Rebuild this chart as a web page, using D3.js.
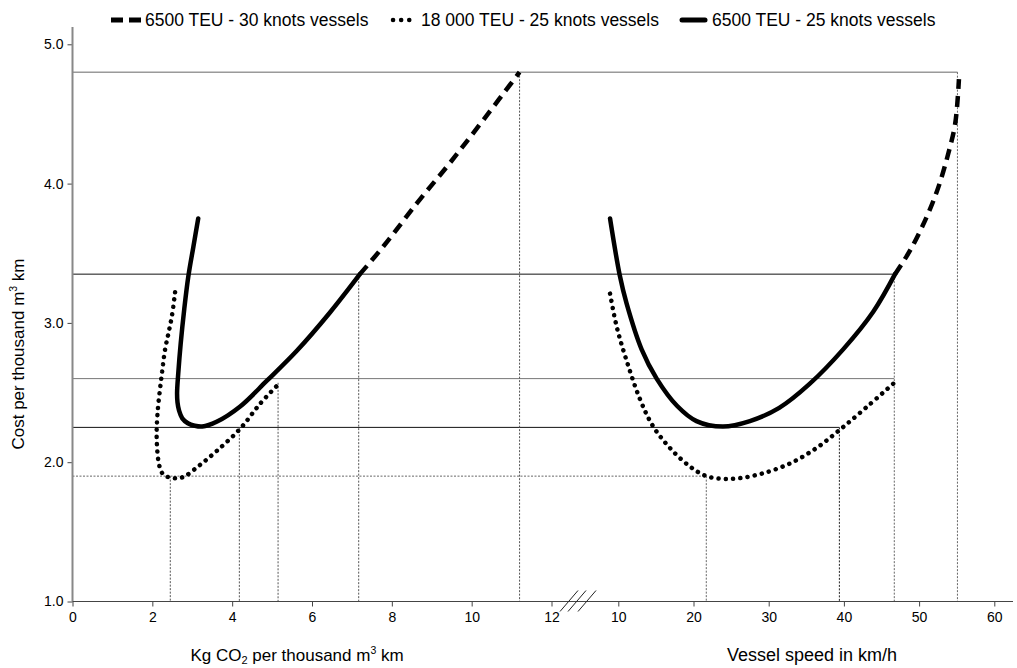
<!DOCTYPE html>
<html><head><meta charset="utf-8">
<script src="https://cdn.jsdelivr.net/npm/d3@7/dist/d3.min.js"></script>
<style>
body{margin:0;background:#fff;}
text{font-family:"Liberation Sans",Arial,sans-serif;fill:#000;}
</style></head>
<body><svg id="c" width="1017" height="668"></svg>
<script>
// ---- data ----
const seriesNames = ["6500 TEU - 30 knots vessels", "18 000 TEU - 25 knots vessels", "6500 TEU - 25 knots vessels"];
const yTicks = [1.0, 2.0, 3.0, 4.0, 5.0];
const co2Ticks = [0, 2, 4, 6, 8, 10, 12];
const speedTicks = [10, 20, 30, 40, 50, 60];

// left panel: CO2 (kg per thousand m3 km) vs cost
const co2Solid   = [3.15, 3.03, 2.90, 2.80, 2.71, 2.65, 2.62, 2.63, 2.67, 2.75, 2.89, 3.06, 3.25, 3.61, 4.20, 4.87, 5.62, 6.45, 7.20];
const costSolidL = [3.75, 3.55, 3.33, 3.10, 2.85, 2.64, 2.50, 2.43, 2.37, 2.315, 2.28, 2.262, 2.256, 2.29, 2.40, 2.585, 2.80, 3.075, 3.35];
const co2Dashed   = [7.20, 7.79, 8.63, 9.46, 10.30, 11.20];
const costDashedL = [3.35, 3.55, 3.86, 4.15, 4.46, 4.80];
const co2Dotted   = [2.57, 2.49, 2.40, 2.32, 2.22, 2.13, 2.11, 2.18, 2.28, 2.44, 2.65, 2.82, 3.15, 3.61, 4.20, 4.70, 5.16];
const costDottedL = [3.22, 3.05, 2.92, 2.81, 2.59, 2.35, 2.16, 1.97, 1.91, 1.89, 1.885, 1.90, 1.97, 2.08, 2.24, 2.42, 2.56];

// right panel: vessel speed (km/h) vs cost
const speedSolid  = [8.9, 10.2, 11.1, 13.1, 15.1, 17.8, 20.4, 23.9, 27.5, 31.4, 35.4, 39.9, 43.9, 46.8];
const costSolidR  = [3.75, 3.34, 3.14, 2.81, 2.60, 2.405, 2.295, 2.256, 2.295, 2.39, 2.56, 2.81, 3.08, 3.35];
const speedDashed = [46.8, 48.8, 51.0, 52.6, 53.9, 54.8, 55.3];
const costDashedR = [3.35, 3.52, 3.76, 3.98, 4.22, 4.43, 4.75];
const speedDotted = [8.9, 9.8, 11.1, 12.9, 14.6, 16.9, 19.5, 21.7, 23.9, 26.1, 29.2, 32.8, 36.3, 39.4, 42.9, 46.7];
const costDotted  = [3.21, 2.97, 2.73, 2.45, 2.26, 2.10, 1.97, 1.90, 1.88, 1.885, 1.92, 1.99, 2.10, 2.23, 2.39, 2.57];

// reference (guide) lines
const refCost  = [4.8, 3.35, 2.6, 2.25, 1.9];
const refSpeed = [55.1, 46.7, 46.7, 39.4, 21.7];
const refCO2   = [11.2, 7.17, 5.15, 4.18, 2.45];
const refCO2Cost = [4.8, 3.35, 2.57, 2.25, 1.9];
const refSpeedV = [55.1, 46.7, 39.4, 21.7];
const refSpeedVCost = [4.8, 3.35, 2.25, 1.9];

// ---- layout ----
const svg = d3.select("#c");
const y = d3.scaleLinear().domain([1, 5]).range([601.5, 44.3]);
const xL = d3.scaleLinear().domain([0, 12]).range([72.5, 551.5]);
const xR = d3.scaleLinear().domain([10, 60]).range([618.3, 994.3]);
const x0 = 72.5, yBase = y(1);

const zip = (a, b) => a.map((v, i) => [v, b[i]]);

// guide lines
const g = svg.append("g");
const hStyles = [
  {c:"#666", d:null}, {c:"#111", d:null}, {c:"#777", d:null}, {c:"#111", d:null}, {c:"#666", d:"2,1.5"}
];
refCost.forEach((v, i) => {
  g.append("line").attr("x1", x0).attr("x2", xR(refSpeed[i])).attr("y1", y(v)).attr("y2", y(v))
    .attr("stroke", hStyles[i].c).attr("stroke-width", 1).attr("stroke-dasharray", hStyles[i].d);
});
refCO2.forEach((v, i) => {
  g.append("line").attr("x1", xL(v)).attr("x2", xL(v)).attr("y1", y(refCO2Cost[i])).attr("y2", yBase)
    .attr("stroke", "#555").attr("stroke-width", 1).attr("stroke-dasharray", "2,1.5");
});
refSpeedV.forEach((v, i) => {
  g.append("line").attr("x1", xR(v)).attr("x2", xR(v)).attr("y1", y(refSpeedVCost[i])).attr("y2", yBase)
    .attr("stroke", i === 2 ? "#222" : "#666").attr("stroke-width", 1).attr("stroke-dasharray", "2,1.5");
});

// axes
const yAxis = d3.axisLeft(y).tickValues(yTicks).tickFormat(d3.format(".1f")).tickSize(5).tickPadding(4);
const ga = svg.append("g").attr("transform", `translate(${x0},0)`).call(yAxis);
ga.select(".domain").remove();
svg.append("line").attr("x1", x0).attr("x2", x0).attr("y1", 27).attr("y2", yBase)
  .attr("stroke", "#888").attr("stroke-width", 2);

const xAxisL = d3.axisBottom(xL).tickValues(co2Ticks).tickFormat(d3.format("d")).tickSize(5).tickPadding(6);
const xAxisR = d3.axisBottom(xR).tickValues(speedTicks).tickFormat(d3.format("d")).tickSize(5).tickPadding(6);
const gl = svg.append("g").attr("transform", `translate(0,${yBase})`).call(xAxisL);
const gr = svg.append("g").attr("transform", `translate(0,${yBase})`).call(xAxisR);
[gl, gr].forEach(a => { a.select(".domain").remove(); a.selectAll("line").attr("stroke", "#444");
  a.selectAll("text").attr("font-size", 14).attr("font-family", "Liberation Sans, Arial, sans-serif").attr("fill", "#111"); });
ga.selectAll("line").attr("stroke", "#444");
ga.selectAll("text").attr("font-size", 14).attr("font-family", "Liberation Sans, Arial, sans-serif").attr("fill", "#111");
svg.append("line").attr("x1", x0).attr("x2", 1013).attr("y1", yBase).attr("y2", yBase)
  .attr("stroke", "#444").attr("stroke-width", 1.2);

// axis break marks
[560, 568, 578].forEach(bx => {
  svg.append("line").attr("x1", bx).attr("y1", yBase + 10).attr("x2", bx + 18).attr("y2", yBase - 11)
    .attr("stroke", "#222").attr("stroke-width", 1);
});

// curves
const line = d3.line().x(d => d[0]).y(d => d[1]).curve(d3.curveCatmullRom.alpha(0.5));
const styles = {
  solid:  {w: 4.5, d: null, cap: "round"},
  dashed: {w: 4.5, d: "11,7", cap: "butt"},
  dotted: {w: 4.5, d: "0.1,7.2", cap: "round"}
};
function draw(xs, ys, xsc, st) {
  const pts = zip(xs, ys).map(p => [xsc(p[0]), y(p[1])]);
  svg.append("path").attr("d", line(pts)).attr("fill", "none").attr("stroke", "#000")
    .attr("stroke-width", styles[st].w).attr("stroke-dasharray", styles[st].d)
    .attr("stroke-linecap", styles[st].cap).attr("stroke-linejoin", "round");
}
draw(co2Dotted, costDottedL, xL, "dotted");
draw(co2Solid, costSolidL, xL, "solid");
draw(co2Dashed, costDashedL, xL, "dashed");
draw(speedDotted, costDotted, xR, "dotted");
draw(speedSolid, costSolidR, xR, "solid");
draw(speedDashed, costDashedR, xR, "dashed");

// legend
const leg = svg.append("g").attr("font-size", 17.5);
const ly = 20;
leg.append("line").attr("x1", 111).attr("x2", 141).attr("y1", ly).attr("y2", ly)
  .attr("stroke", "#000").attr("stroke-width", 5).attr("stroke-dasharray", "12,6");
leg.append("text").attr("x", 145).attr("y", ly + 6).text(seriesNames[0]);
leg.append("line").attr("x1", 393).attr("x2", 411).attr("y1", ly).attr("y2", ly)
  .attr("stroke", "#000").attr("stroke-width", 4.5).attr("stroke-linecap", "round").attr("stroke-dasharray", "0.1,8");
leg.append("text").attr("x", 421).attr("y", ly + 6).text(seriesNames[1]);
leg.append("line").attr("x1", 682).attr("x2", 705).attr("y1", ly).attr("y2", ly)
  .attr("stroke", "#000").attr("stroke-width", 5).attr("stroke-linecap", "round");
leg.append("text").attr("x", 712).attr("y", ly + 6).text(seriesNames[2]);

// axis titles
const yt = svg.append("text").attr("transform", "translate(24,354) rotate(-90)")
  .attr("text-anchor", "middle").attr("font-size", 17);
yt.append("tspan").text("Cost per thousand m");
yt.append("tspan").attr("font-size", 10.5).attr("dy", -7).text("3");
yt.append("tspan").attr("dy", 7).text(" km");

const xt = svg.append("text").attr("x", 297).attr("y", 661).attr("text-anchor", "middle").attr("font-size", 17);
xt.append("tspan").text("Kg CO");
xt.append("tspan").attr("font-size", 11).attr("dy", 3).text("2");
xt.append("tspan").attr("dy", -3).text(" per thousand m");
xt.append("tspan").attr("font-size", 10.5).attr("dy", -7).text("3");
xt.append("tspan").attr("dy", 7).text(" km");

svg.append("text").attr("x", 812).attr("y", 661).attr("text-anchor", "middle").attr("font-size", 18)
  .text("Vessel speed in km/h");
</script></body></html>
